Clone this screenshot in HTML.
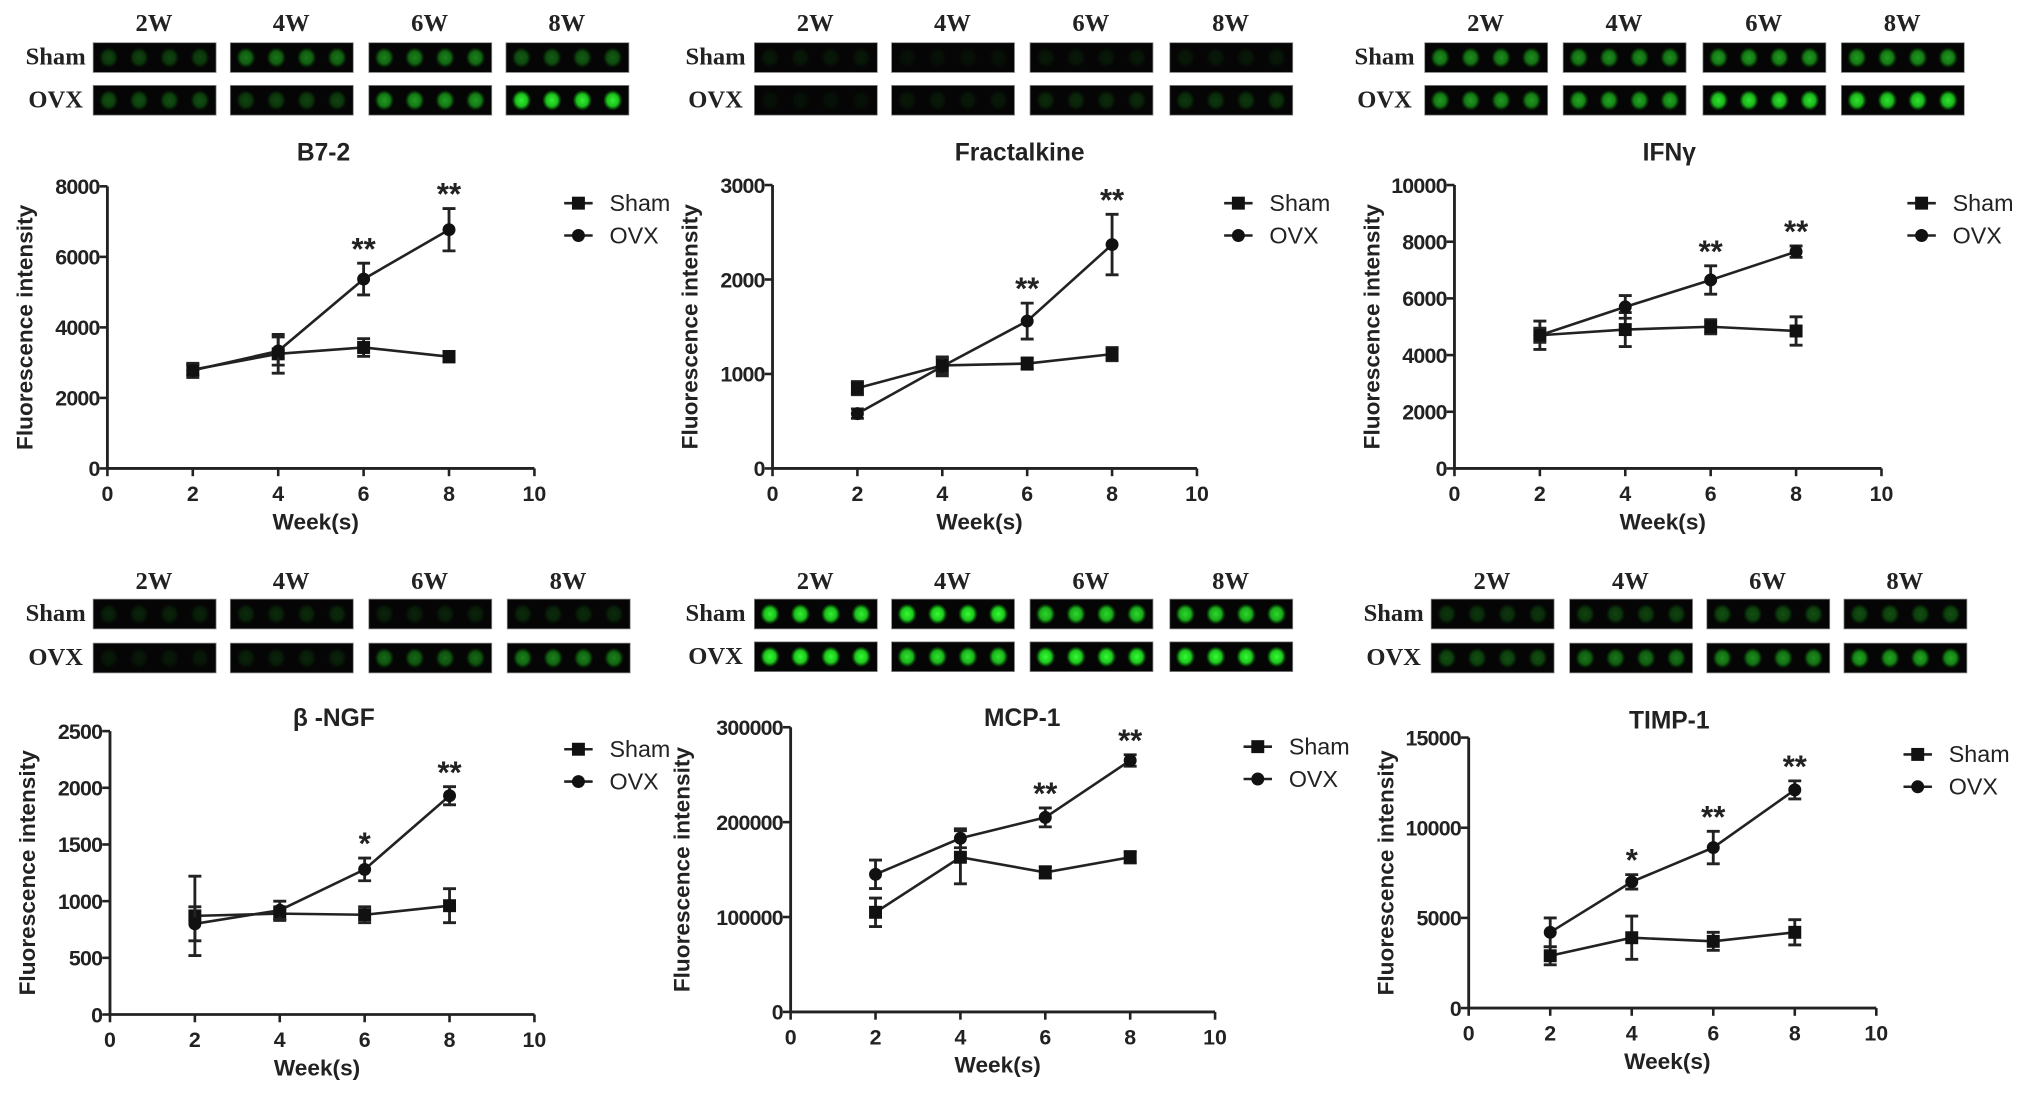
<!DOCTYPE html>
<html><head><meta charset="utf-8"><style>
html,body{margin:0;padding:0;background:#fff;}
svg{display:block;}
.t{font-family:"Liberation Sans",Arial,sans-serif;font-weight:bold;fill:#222;}
.s{font-family:"Liberation Serif","Times New Roman",serif;font-weight:bold;fill:#222;}
.l{font-family:"Liberation Sans",Arial,sans-serif;fill:#222;}
</style></head><body>
<svg id="fig" width="2029" height="1095" viewBox="0 0 1568 846.2" preserveAspectRatio="none" xmlns="http://www.w3.org/2000/svg">
<defs>
<radialGradient id="spot"><stop offset="0" stop-color="#3f3" stop-opacity="1"/><stop offset="0.6" stop-color="#2d2" stop-opacity="0.9"/><stop offset="1" stop-color="#0a0" stop-opacity="0"/></radialGradient>
</defs>
</svg>
<script>
// ---- data ----
const weeks = [2, 4, 6, 8];
const titles = ["B7-2", "Fractalkine", "IFN\u03b3", "\u03b2 -NGF", "MCP-1", "TIMP-1"];
const yMax = [8000, 3000, 10000, 2500, 300000, 15000];
const yStep = [2000, 1000, 2000, 500, 100000, 5000];
const shamB7 = [2800, 3250, 3430, 3170];
const shamB7Err = [150, 550, 250, 150];
const ovxB7 = [2780, 3330, 5370, 6770];
const ovxB7Err = [200, 400, 450, 600];
const shamFrac = [850, 1090, 1110, 1210];
const shamFracErr = [70, 80, 60, 70];
const ovxFrac = [580, 1080, 1560, 2370];
const ovxFracErr = [50, 100, 190, 320];
const shamIfn = [4700, 4900, 5000, 4850];
const shamIfnErr = [500, 600, 250, 500];
const ovxIfn = [4700, 5700, 6650, 7650];
const ovxIfnErr = [250, 400, 500, 200];
const shamNgf = [870, 890, 880, 960];
const shamNgfErr = [350, 60, 70, 150];
const ovxNgf = [800, 920, 1280, 1930];
const ovxNgfErr = [150, 80, 100, 80];
const shamMcp = [105000, 163000, 147000, 163000];
const shamMcpErr = [15000, 28000, 6000, 6000];
const ovxMcp = [145000, 183000, 205000, 265000];
const ovxMcpErr = [15000, 10000, 10000, 6000];
const shamTimp = [2900, 3900, 3700, 4200];
const shamTimpErr = [500, 1200, 500, 700];
const ovxTimp = [4200, 7000, 8900, 12100];
const ovxTimpErr = [800, 400, 900, 500];
const starsB7 = ["", "", "**", "**"];
const starsFrac = ["", "", "**", "**"];
const starsIfn = ["", "", "**", "**"];
const starsNgf = ["", "", "*", "**"];
const starsMcp = ["", "", "**", "**"];
const starsTimp = ["", "*", "**", "**"];
// blot spot brightness (0..1)
const blotSham = [[0.25,0.45,0.5,0.35],[0.08,0.05,0.08,0.08],[0.55,0.55,0.6,0.6],[0.12,0.15,0.12,0.15],[0.95,1,0.85,0.85],[0.2,0.25,0.3,0.3]];
const blotOvx = [[0.3,0.25,0.6,0.95],[0.05,0.08,0.15,0.2],[0.6,0.65,0.9,0.9],[0.08,0.12,0.4,0.5],[1,0.9,1,1],[0.3,0.45,0.55,0.65]];

const S = [shamB7, shamFrac, shamIfn, shamNgf, shamMcp, shamTimp];
const SE = [shamB7Err, shamFracErr, shamIfnErr, shamNgfErr, shamMcpErr, shamTimpErr];
const O = [ovxB7, ovxFrac, ovxIfn, ovxNgf, ovxMcp, ovxTimp];
const OE = [ovxB7Err, ovxFracErr, ovxIfnErr, ovxNgfErr, ovxMcpErr, ovxTimpErr];
const ST = [starsB7, starsFrac, starsIfn, starsNgf, starsMcp, starsTimp];

// ---- layout ----
const L = [
 {x0:83,x1:413,y0:362,y1:144,tx:250,ty:124,lx:440,ly:157,bx:[72,178,285,391],by:[33,66],lab:43,cy:24},
 {x0:597,x1:925,y0:362,y1:143,tx:788,ty:124,lx:950,ly:157,bx:[583,689,796,904],by:[33,66],lab:553,cy:24},
 {x0:1124,x1:1454,y0:362,y1:143,tx:1290,ty:124,lx:1478,ly:157,bx:[1101,1208,1316,1423],by:[33,66],lab:1070,cy:24},
 {x0:85,x1:413,y0:784,y1:565,tx:258,ty:561,lx:440,ly:579,bx:[72,178,285,392],by:[463,497],lab:43,cy:455},
 {x0:611,x1:939,y0:782,y1:562,tx:790,ty:561,lx:965,ly:577,bx:[583,689,796,904],by:[463,496],lab:553,cy:455},
 {x0:1135,x1:1450,y0:779,y1:570,tx:1290,ty:563,lx:1475,ly:583,bx:[1106,1213,1319,1425],by:[463,497],lab:1077,cy:455}
];
const NS = "http://www.w3.org/2000/svg";
const svg = document.getElementById('fig');
function mk(tag, attrs, parent, text){
  const e = document.createElementNS(NS, tag);
  for (const k in attrs) e.setAttribute(k, attrs[k]);
  if (text !== undefined) e.textContent = text;
  (parent || svg).appendChild(e);
  return e;
}
const wl = ["2W","4W","6W","8W"];
L.forEach((p, i) => {
  const g = mk('g', {});
  
  
  const xs = v => p.x0 + (v/10)*(p.x1-p.x0);
  const ys = v => p.y0 - (v/yMax[i])*(p.y0-p.y1);
  // blots
  const bg = mk('g', {}, g);
  
  
  p.bx.forEach((bx, w) => {
    const c = mk('text', {x:bx+47, y:p.cy, 'text-anchor':'middle', class:'s', 'font-size':19}, bg, wl[w]);
    
    
    [blotSham[i][w], blotOvx[i][w]].forEach((b, r) => {
      const rect = mk('rect', {x:bx, y:p.by[r], width:95, height:23, fill:'#050505', stroke:'#888', 'stroke-width':0.6}, bg);
      
      
      for (let k=0;k<4;k++){
        mk('ellipse', {cx:bx+12+k*23.5, cy:p.by[r]+11.5, rx:7.5, ry:8, fill:'url(#spot)', opacity:b}, bg);
      }
    });
  });
  const t1 = mk('text', {x:p.lab, y:p.by[0]+17, 'text-anchor':'middle', class:'s', 'font-size':19}, bg, 'Sham');
  
  
  const t2 = mk('text', {x:p.lab, y:p.by[1]+17, 'text-anchor':'middle', class:'s', 'font-size':19}, bg, 'OVX');
  
  
  // title
  const tt = mk('text', {x:p.tx, y:p.ty, 'text-anchor':'middle', class:'t', 'font-size':19}, g, titles[i]);
  
  
  // axes
  mk('line', {x1:p.x0, y1:p.y0, x2:p.x1, y2:p.y0, stroke:'#222', 'stroke-width':2.2}, g);
  mk('line', {x1:p.x0, y1:p.y0, x2:p.x0, y2:p.y1, stroke:'#222', 'stroke-width':2.2}, g);
  for (let v=0; v<=10; v+=2){
    mk('line', {x1:xs(v), y1:p.y0, x2:xs(v), y2:p.y0+6, stroke:'#222', 'stroke-width':2}, g);
    const tl = mk('text', {x:xs(v), y:p.y0+25, 'text-anchor':'middle', class:'t', 'font-size':16.5}, g, String(v));
    
    
  }
  for (let v=0; v<=yMax[i]; v+=yStep[i]){
    mk('line', {x1:p.x0-6, y1:ys(v), x2:p.x0, y2:ys(v), stroke:'#222', 'stroke-width':2}, g);
    const tl = mk('text', {x:p.x0-6, y:ys(v)+6, 'text-anchor':'end', class:'t', 'font-size':16.5, 'letter-spacing':'-0.6'}, g, String(v));
    
    
  }
  const xt = mk('text', {x:(p.x0+p.x1)/2 - 4, y:p.y0+47, 'text-anchor':'middle', class:'t', 'font-size':17.5}, g, 'Week(s)');
  
  
  const yc = (p.y0 + p.y1)/2;
  const yx = p.x0 - 58 - (i===4 ? 20 : 0);
  const yt = mk('text', {x:yx, y:yc, 'text-anchor':'middle', class:'t', 'font-size':17.5, transform:`rotate(-90 ${yx} ${yc})`}, g, 'Fluorescence intensity');
  
  
  // series
  [[S[i],SE[i],'sham'],[O[i],OE[i],'ovx']].forEach(([vals, errs, nm]) => {
    const pts = vals.map((v,k)=>xs(weeks[k])+','+ys(v)).join(' ');
    const pl = mk('polyline', {points:pts, fill:'none', stroke:'#222', 'stroke-width':2}, g);
    
    
    vals.forEach((v,k)=>{
      const x = xs(weeks[k]);
      const eb = mk('path', {d:`M${x},${ys(v+errs[k])}V${ys(v-errs[k])}M${x-5},${ys(v+errs[k])}H${x+5}M${x-5},${ys(v-errs[k])}H${x+5}`, stroke:'#222', 'stroke-width':2.2, fill:'none'}, g);
      
      
      let m;
      if (nm==='sham') m = mk('rect', {x:x-5, y:ys(v)-5, width:10, height:10, fill:'#111'}, g);
      else m = mk('circle', {cx:x, cy:ys(v), r:5, fill:'#111'}, g);
      
      
    });
  });
  ST[i].forEach((s,k)=>{
    if(!s) return;
    const top = ys(O[i][k] + OE[i][k]);
    const st = mk('text', {x:xs(weeks[k]), y:top-3, 'text-anchor':'middle', class:'t', 'font-size':24}, g, s);
    
    
  });
  // legend
  const lg = mk('g', {}, g);
  
  
  ['Sham','OVX'].forEach((n, r) => {
    const y = p.ly + r*25;
    mk('line', {x1:p.lx-4, y1:y, x2:p.lx+18, y2:y, stroke:'#222', 'stroke-width':2}, lg);
    if (r===0) mk('rect', {x:p.lx+2, y:y-5, width:10, height:10, fill:'#111'}, lg);
    else mk('circle', {cx:p.lx+7, cy:y, r:5, fill:'#111'}, lg);
    const lt = mk('text', {x:p.lx+31, y:y+6, class:'l', 'font-size':18}, lg, n);
    
    
  });
});
</script>
</body></html>
